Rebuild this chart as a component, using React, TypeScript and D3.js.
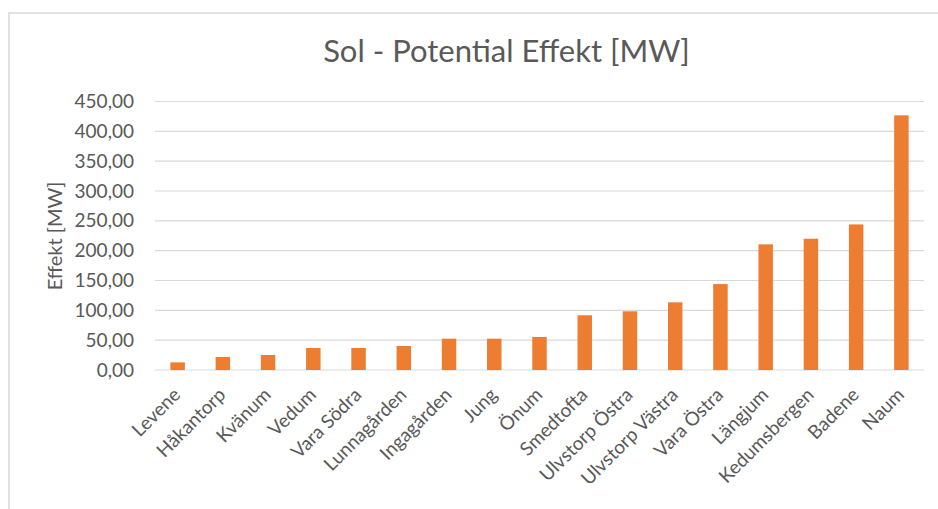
import React, { useEffect, useRef } from "react";
import * as d3 from "d3";

const categories = [
  "Levene", "Håkantorp", "Kvänum", "Vedum", "Vara Södra", "Lunnagården",
  "Ingagården", "Jung", "Önum", "Smedtofta", "Ulvstorp Östra", "Ulvstorp Västra",
  "Vara Östra", "Längjum", "Kedumsbergen", "Badene", "Naum",
];
const values = [12.8, 21.8, 25.1, 36.9, 36.9, 40.2, 52.5, 52.5, 55.3, 91.7, 98.4, 113.4, 144, 210.6, 220, 244, 426.8];
const yTicks = [0, 50, 100, 150, 200, 250, 300, 350, 400, 450];
const title = "Sol - Potential Effekt [MW]";
const yTitle = "Effekt [MW]";

const W = 938, H = 509;
const FONT = "Lato, 'Open Sans', sans-serif";
const TEXT = "#595959";

export default function App() {
  const ref = useRef<SVGSVGElement>(null);
  useEffect(() => {
    const svg = d3.select(ref.current);
    svg.selectAll("*").remove();

    svg.append("rect").attr("x", 9).attr("y", 13).attr("width", W + 10).attr("height", H + 10)
      .attr("fill", "#fff").attr("stroke", "#d9d9d9").attr("stroke-width", 1.5);

    const x = d3.scaleBand<string>().domain(categories).range([155, 924]).paddingInner(0.68).paddingOuter(0.34);
    const y = d3.scaleLinear().domain([0, 450]).range([370, 101.5]);

    const g = svg.append("g");
    g.selectAll("line.grid").data(yTicks).join("line")
      .attr("x1", 155).attr("x2", 924)
      .attr("y1", (d) => y(d)).attr("y2", (d) => y(d))
      .attr("stroke", "#d9d9d9").attr("stroke-width", 1.2);

    g.selectAll("text.yt").data(yTicks).join("text")
      .attr("x", 134).attr("y", (d) => y(d)).attr("dy", "0.35em")
      .attr("text-anchor", "end").attr("font-family", FONT).attr("font-size", 19).attr("fill", TEXT)
      .text((d) => d3.format(".2f")(d).replace(".", ","));

    g.selectAll("rect.bar").data(values).join("rect")
      .attr("x", (_, i) => x(categories[i])!).attr("width", x.bandwidth())
      .attr("y", (d) => y(d)).attr("height", (d) => y(0) - y(d))
      .attr("fill", "#ED7D31");

    g.selectAll("text.xt").data(categories).join("text")
      .attr("transform", (d) => `translate(${x(d)! + x.bandwidth() / 2 + 4},396) rotate(-45)`)
      .attr("text-anchor", "end").attr("font-family", FONT).attr("font-size", 19).attr("fill", TEXT)
      .text((d) => d);

    svg.append("text").attr("x", 506.5).attr("y", 62).attr("text-anchor", "middle")
      .attr("font-family", FONT).attr("font-size", 31).attr("fill", TEXT).text(title);

    svg.append("text").attr("transform", "translate(62,236) rotate(-90)").attr("text-anchor", "middle")
      .attr("font-family", FONT).attr("font-size", 20).attr("fill", TEXT).text(yTitle);
  }, []);
  return (
    <svg ref={ref} width={W} height={H} style={{ position: "absolute", left: 0, top: 0, background: "#fff" }} />
  );
}
